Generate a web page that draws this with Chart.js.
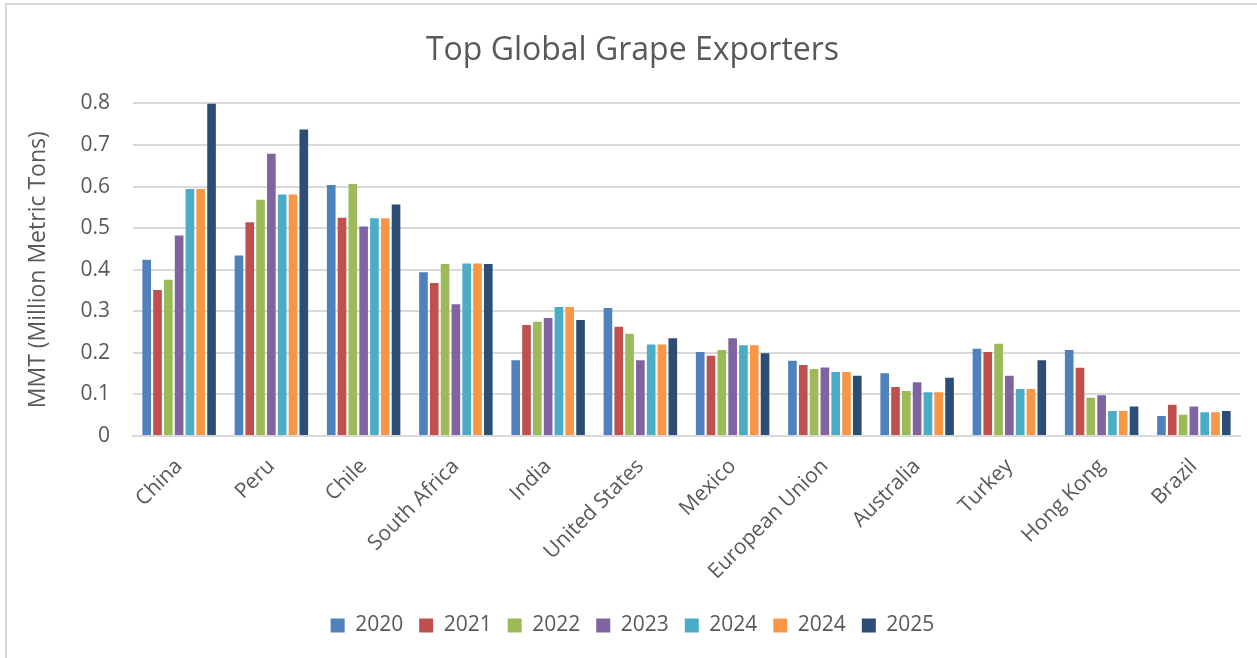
<!DOCTYPE html>
<html>
<head>
<meta charset="utf-8">
<script src="https://cdn.jsdelivr.net/npm/chart.js@4.4.1/dist/chart.umd.min.js"></script>
<style>
  html, body { margin: 0; padding: 0; background: #fff; }
  .frame {
    position: absolute; left: 5px; top: 3px;
    width: 1270px; height: 680px;
    border-left: 2px solid #d9d9d9; border-top: 2px solid #d9d9d9;
  }
  #wrap { position: absolute; left: 0; top: 0; width: 1257px; height: 658px; }
</style>
</head>
<body>
<div class="frame"></div>
<div id="wrap"><canvas id="myChart" width="1257" height="658"></canvas></div>
<script>
// countries and yearly exports (MMT)
const countries = ["China", "Peru", "Chile", "South Africa", "India", "United States",
  "Mexico", "European Union", "Australia", "Turkey", "Hong Kong", "Brazil"];

const y2020 = [0.424, 0.434, 0.604, 0.394, 0.182, 0.308, 0.202, 0.181, 0.151, 0.210, 0.207, 0.048];
const y2021 = [0.351, 0.514, 0.525, 0.368, 0.267, 0.263, 0.193, 0.171, 0.118, 0.202, 0.164, 0.075];
const y2022 = [0.376, 0.568, 0.606, 0.414, 0.275, 0.246, 0.207, 0.161, 0.108, 0.222, 0.092, 0.051];
const y2023 = [0.482, 0.679, 0.504, 0.317, 0.284, 0.182, 0.235, 0.165, 0.129, 0.145, 0.098, 0.071];
const y2024 = [0.594, 0.581, 0.524, 0.415, 0.310, 0.220, 0.218, 0.154, 0.105, 0.113, 0.060, 0.057];
const y2024b = [0.594, 0.581, 0.524, 0.415, 0.310, 0.220, 0.218, 0.154, 0.105, 0.113, 0.060, 0.057];
const y2025 = [0.800, 0.737, 0.557, 0.414, 0.279, 0.235, 0.199, 0.145, 0.140, 0.182, 0.071, 0.060];

const yTicks = [0, 0.1, 0.2, 0.3, 0.4, 0.5, 0.6, 0.7, 0.8];

const seriesLabels = ["2020", "2021", "2022", "2023", "2024", "2024", "2025"];
const seriesData = [y2020, y2021, y2022, y2023, y2024, y2024b, y2025];
const colors = ["#4f81bd", "#c0504d", "#9bbb59", "#8064a2", "#4bacc6", "#f79646", "#2c4d75"];

const textColor = "#595959";
const fontFamily = "'Open Sans', 'Noto Sans', sans-serif";

let ctx = document.getElementById("myChart").getContext("2d");
let myChart = new Chart(ctx, {
  type: "bar",
  data: {
    labels: countries,
    datasets: seriesData.map((d, i) => ({
      label: seriesLabels[i],
      data: d,
      backgroundColor: colors[i],
      borderWidth: 0,
      barPercentage: 0.8,
      categoryPercentage: 0.82,
    })),
  },
  options: {
    responsive: false,
    animation: false,
    devicePixelRatio: 1,
    layout: { padding: { left: 25, right: 17, top: 0, bottom: 12 } },
    plugins: {
      title: {
        display: true,
        text: "Top Global Grape Exporters",
        color: textColor,
        font: { family: fontFamily, size: 32, weight: "normal" },
        padding: { top: 32, bottom: 33 },
      },
      legend: {
        position: "bottom",
        labels: {
          color: textColor,
          font: { family: fontFamily, size: 21 },
          boxWidth: 14,
          boxHeight: 14,
          padding: 16,
        },
      },
      tooltip: { enabled: false },
    },
    scales: {
      x: {
        grid: { display: false },
        border: { color: "#d9d9d9", width: 2 },
        afterFit: (axis) => { axis.height = 163; },
        ticks: {
          color: textColor,
          font: { family: fontFamily, size: 21 },
          minRotation: 45,
          maxRotation: 45,
          padding: 10,
        },
      },
      y: {
        min: 0,
        max: 0.8,
        afterBuildTicks: (axis) => { axis.ticks = yTicks.map(v => ({ value: v })); },
        afterFit: (axis) => { axis.width = 108; },
        grid: { color: "#d9d9d9", lineWidth: 2, drawTicks: false },
        border: { display: false },
        ticks: {
          color: textColor,
          font: { family: fontFamily, size: 21 },
          padding: 23,
          callback: (v) => String(Math.round(v * 10) / 10),
        },
        title: {
          display: true,
          text: "MMT (Million Metric Tons)",
          color: textColor,
          font: { family: fontFamily, size: 23 },
          padding: { top: 0, bottom: 4 },
        },
      },
    },
  },
});
</script>
</body>
</html>
